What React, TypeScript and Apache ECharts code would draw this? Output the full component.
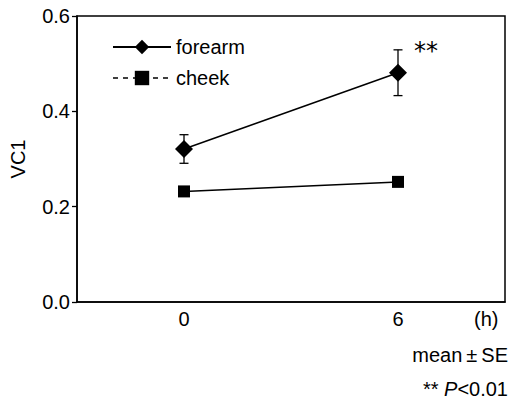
import React, { useEffect, useRef } from "react";
import * as echarts from "echarts";

const categories = ["0", "6"];
const forearmMean = [0.321, 0.481];
const forearmSE = [0.03, 0.048];
const cheekMean = [0.232, 0.252];
const cheekSE = [0.008, 0.008];
const yTicks = [0, 0.2, 0.4, 0.6];

const FONT = "'Liberation Sans', Arial, Helvetica, sans-serif";

function errorSeries(name: string, means: number[], se: number[]) {
  return {
    type: "custom",
    name: name + "-err",
    silent: true,
    z: 1,
    data: means.map((m, i) => [i, m - se[i], m + se[i]]),
    renderItem: (params: any, api: any) => {
      const x = api.value(0);
      const lo = api.coord([x, api.value(1)]);
      const hi = api.coord([x, api.value(2)]);
      const cap = 4.5;
      const style = { stroke: "#000", lineWidth: 1.3, fill: "none" };
      return {
        type: "group",
        children: [
          { type: "line", shape: { x1: lo[0], y1: lo[1], x2: hi[0], y2: hi[1] }, style },
          { type: "line", shape: { x1: lo[0] - cap, y1: lo[1], x2: lo[0] + cap, y2: lo[1] }, style },
          { type: "line", shape: { x1: hi[0] - cap, y1: hi[1], x2: hi[0] + cap, y2: hi[1] }, style },
        ],
      };
    },
  };
}

export default function App() {
  const ref = useRef<HTMLDivElement>(null);
  useEffect(() => {
    const chart = echarts.init(ref.current!, null, { renderer: "svg" });
    chart.setOption({
      animation: false,
      textStyle: { fontFamily: FONT },
      grid: {
        left: 77,
        top: 16,
        right: 4,
        bottom: 99,
        show: true,
        borderColor: "#000",
        borderWidth: 1.5,
        backgroundColor: "transparent",
      },
      legend: {
        left: 112,
        top: 37,
        padding: 0,
        orient: "vertical",
        itemWidth: 58,
        itemHeight: 18,
        itemGap: 11,
        textStyle: { fontSize: 20, lineHeight: 20, color: "#000", fontFamily: FONT },
        data: [
          { name: "forearm" },
          { name: "cheek", lineStyle: { type: [5, 5], width: 1.5, color: "#000" } },
        ],
      },
      xAxis: {
        type: "category",
        data: categories,
        boundaryGap: true,
        axisLine: { lineStyle: { color: "#000", width: 1.5 } },
        axisTick: { inside: true, length: 6, lineStyle: { color: "#000", width: 1.3 } },
        axisLabel: { fontSize: 20, color: "#000", margin: 7, fontFamily: FONT },
      },
      yAxis: {
        type: "value",
        min: 0,
        max: 0.6,
        interval: 0.2,
        name: "VC1",
        nameLocation: "middle",
        nameRotate: 90,
        nameGap: 49,
        nameTextStyle: { fontSize: 20, color: "#000", fontFamily: FONT },
        splitLine: { show: false },
        axisLine: { show: true, lineStyle: { color: "#000", width: 1.5 } },
        axisTick: { show: true, length: 5, lineStyle: { color: "#000", width: 1.3 } },
        axisLabel: {
          fontSize: 20,
          color: "#000",
          margin: 7,
          fontFamily: FONT,
          formatter: (v: number) => (yTicks.includes(v) ? v.toFixed(1) : ""),
        },
      },
      series: [
        errorSeries("forearm", forearmMean, forearmSE),
        errorSeries("cheek", cheekMean, cheekSE),
        {
          name: "forearm",
          type: "line",
          data: forearmMean,
          symbol: "diamond",
          symbolSize: 18,
          z: 3,
          itemStyle: { color: "#000" },
          lineStyle: { color: "#000", width: 1.5 },
        },
        {
          name: "cheek",
          type: "line",
          data: cheekMean,
          symbol: "rect",
          symbolSize: 12,
          z: 3,
          itemStyle: { color: "#000" },
          lineStyle: { color: "#000", width: 1.5 },
        },
      ],
      graphic: [
        { type: "text", x: 414, y: 39, style: { text: "**", fontSize: 24, fill: "#000", fontFamily: "'DejaVu Sans', sans-serif" } },
        { type: "text", x: 474, y: 309, style: { text: "(h)", fontSize: 20, fill: "#000", fontFamily: FONT } },
        {
          type: "text",
          right: 1,
          top: 345,
          style: { text: "mean\u2009\u00b1\u2009SE", fontSize: 20, fill: "#000", fontFamily: FONT },
        },
        {
          type: "text",
          right: 1,
          top: 379,
          style: {
            rich: { i: { fontStyle: "italic", fontSize: 20, fontFamily: FONT, fill: "#000" } },
            text: "** {i|P}<0.01",
            fontSize: 20,
            fill: "#000",
            fontFamily: FONT,
          },
        },
      ],
    });
    return () => chart.dispose();
  }, []);
  return (
    <div
      ref={ref}
      style={{ position: "absolute", left: 0, top: 0, width: 509, height: 401, background: "#fff" }}
    />
  );
}
